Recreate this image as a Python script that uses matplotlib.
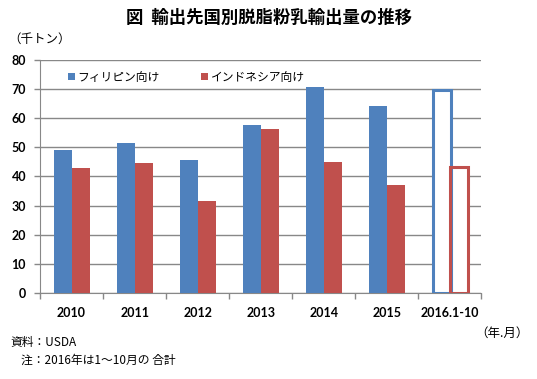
import numpy as np
import matplotlib
matplotlib.use("Agg")
import matplotlib.pyplot as plt
from matplotlib.patches import Patch

plt.rcParams["font.family"] = ["Noto Sans CJK JP", "DejaVu Sans"]

# data
years = ["2010", "2011", "2012", "2013", "2014", "2015", "2016.1-10"]
philippines = [49.1, 51.5, 45.7, 57.7, 70.8, 64.3, 69.8]
indonesia = [43.0, 44.7, 31.6, 56.4, 45.0, 37.1, 43.3]
series_labels = ["フィリピン向け", "インドネシア向け"]

BLUE = "#4F81BD"
RED = "#C0504D"
GRID = "#888888"

fig = plt.figure(figsize=(5.37, 3.79), dpi=100)
ax = fig.add_axes([0.0745, 0.227, 0.822, 0.615])

x = np.arange(len(years))
w = 0.285
last = len(years) - 1

# solid bars for full years, outlined bars for the partial year
for i in range(len(years)):
    if i < last:
        ax.bar(x[i] - w / 2, philippines[i], w, color=BLUE, zorder=3)
        ax.bar(x[i] + w / 2, indonesia[i], w, color=RED, zorder=3)
    else:
        # white fill first so the grid is hidden, then the outlines on top
        ax.bar(x[i] - w / 2, philippines[i], w, color="white", zorder=3)
        ax.bar(x[i] + w / 2, indonesia[i], w, color="white", zorder=3)
        ax.bar(x[i] - w / 2 + 0.01, philippines[i], w, facecolor="none",
               edgecolor=BLUE, linewidth=2.2, zorder=4)
        ax.bar(x[i] + w / 2, indonesia[i], w, facecolor="none",
               edgecolor=RED, linewidth=2.2, zorder=4)

ax.set_xlim(-0.5, len(years) - 0.5)
ax.set_ylim(0, 80)
ax.set_yticks(range(0, 81, 10))
ax.yaxis.grid(True, color=GRID, linewidth=1, zorder=0)
ax.set_axisbelow(True)

ax.set_xticks(x)
ax.set_xticklabels(years, fontsize=9, family="Lato", fontweight="bold")
ax.tick_params(axis="x", length=0, pad=10)
ax.set_xticks(np.arange(-0.5, len(years), 1), minor=True)
ax.tick_params(axis="x", which="minor", length=4, color=GRID, width=1)
ax.tick_params(axis="y", length=4, color=GRID, width=1, labelsize=9, pad=6)
for lbl in ax.get_yticklabels():
    lbl.set_family("Lato")
    lbl.set_fontweight("bold")

for side in ["top", "right"]:
    ax.spines[side].set_visible(False)
for side in ["left", "bottom"]:
    ax.spines[side].set_color(GRID)

handles = [Patch(facecolor=BLUE, label=series_labels[0]),
           Patch(facecolor=RED, label=series_labels[1])]
ax.legend(handles=handles, loc="upper left", bbox_to_anchor=(0.04, 1.0),
          ncol=2, frameon=False, fontsize=8.5, handlelength=0.6,
          handleheight=0.6, handletextpad=0.2, columnspacing=3.5)

fig.text(0.5, 0.952, "図  輸出先国別脱脂粉乳輸出量の推移", ha="center", va="center",
         fontsize=12.5, fontweight="bold")
fig.text(0.015, 0.895, "（千トン）", ha="left", va="center", fontsize=9)
fig.text(0.985, 0.12, "（年.月）", ha="right", va="center", fontsize=9)
fig.text(0.02, 0.095, "資料：USDA", ha="left", va="center", fontsize=8.5)
fig.text(0.04, 0.05, "注：2016年は1～10月の 合計", ha="left", va="center", fontsize=8.5)

fig.savefig("out.png", dpi=100, facecolor="white")
